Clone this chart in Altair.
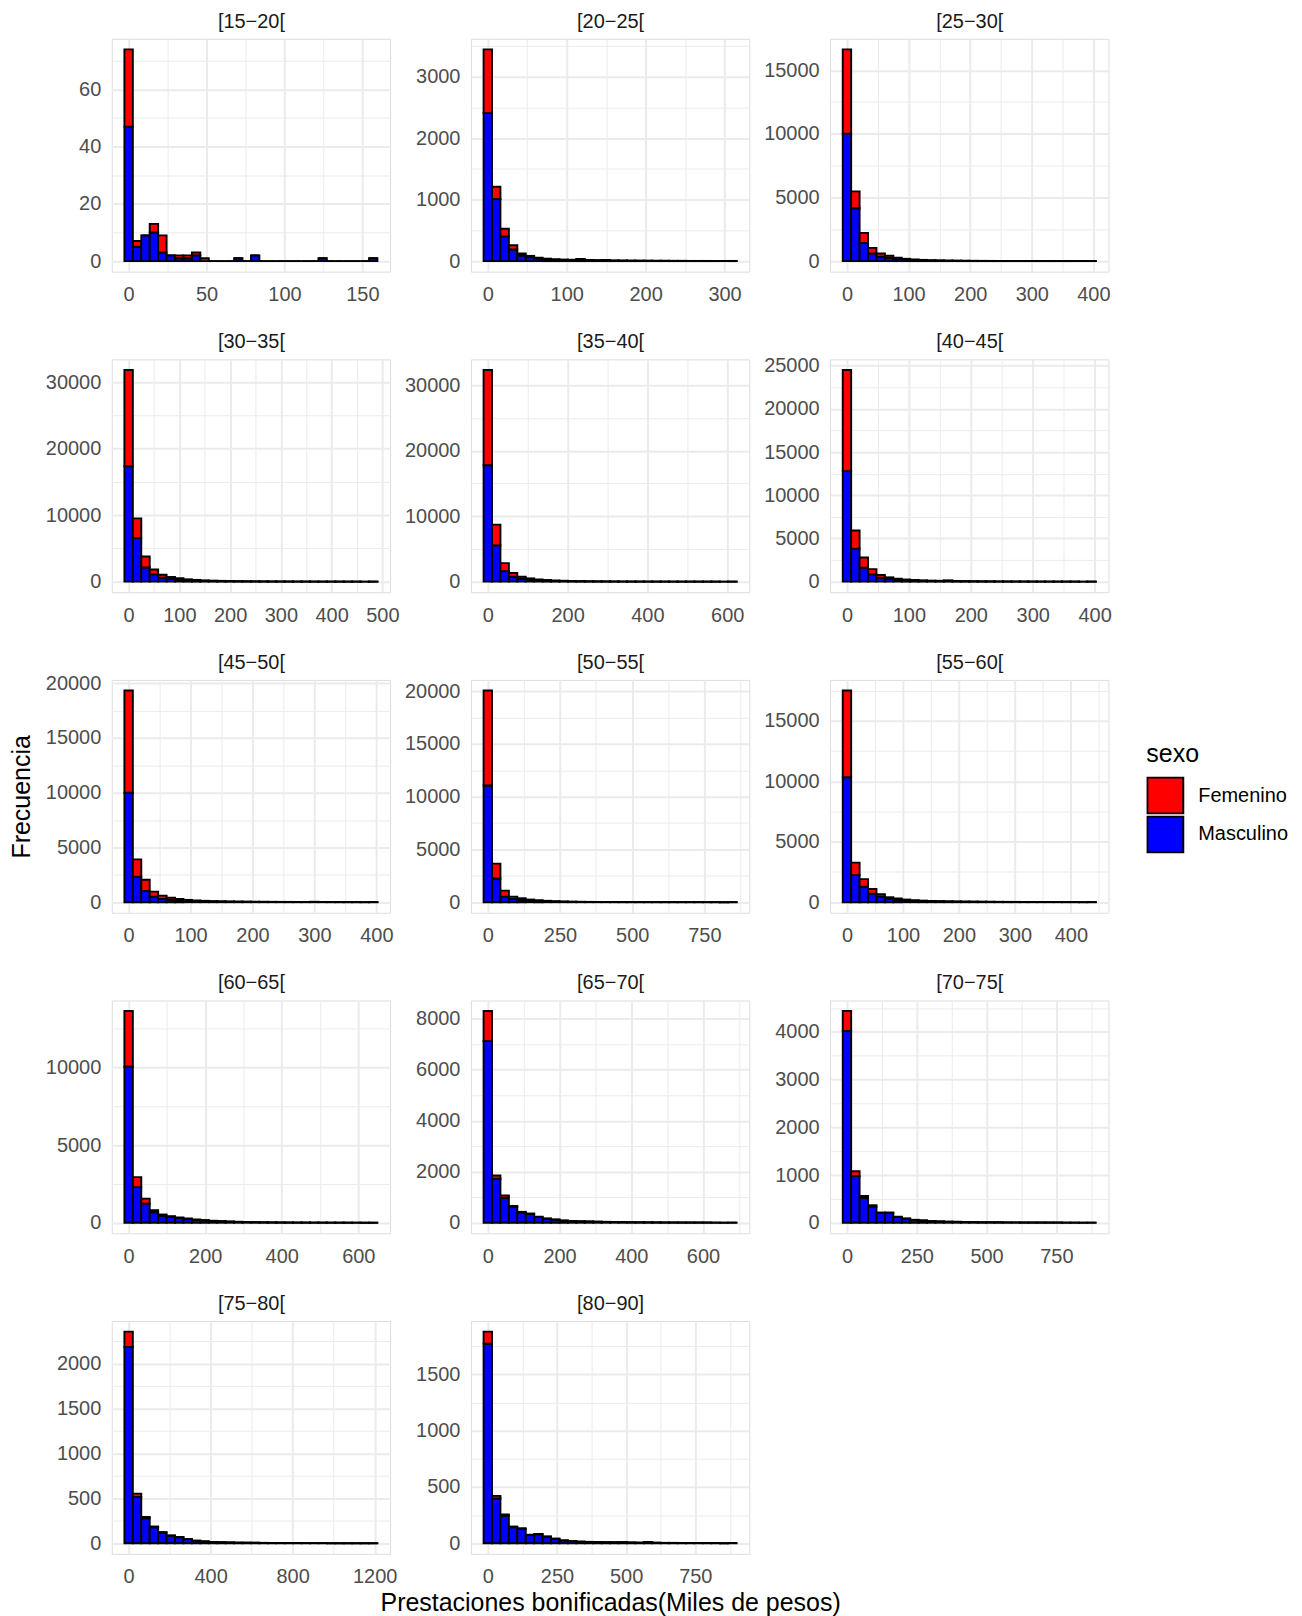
import altair as alt
import pandas as pd

FONT = "Liberation Sans"

groups = ["[15−20[", "[20−25[", "[25−30[", "[30−35[", "[35−40[", "[40−45[",
          "[45−50[", "[50−55[", "[55−60[", "[60−65[", "[65−70[", "[70−75[",
          "[75−80[", "[80−90]"]

# centre of the last of the 30 bins (first bin is centred on 0)
last_center = [157, 310, 397, 482, 613, 395, 395, 847, 437, 639, 682, 876, 1193, 884]
x_step = [50, 100, 100, 100, 200, 100, 100, 250, 100, 200, 200, 250, 400, 250]
y_step = [20, 1000, 5000, 10000, 10000, 5000, 5000, 5000, 5000, 5000, 2000, 1000, 500, 500]

masc_15_20 = [47, 5, 9, 10, 3, 2, 1, 1, 2, 0, 0, 0, 0, 1, 0, 2, 0, 0, 0, 0, 0, 0, 0, 1, 0, 0, 0, 0, 0, 1]
fem_15_20 = [27, 2, 0, 3, 6, 0, 1, 1, 1, 1, 0, 0, 0, 0, 0, 0, 0, 0, 0, 0, 0, 0, 0, 0, 0, 0, 0, 0, 0, 0]

masc_20_25 = [2410, 1011, 403, 189, 90, 62, 40, 30, 22, 19, 17, 28, 14, 11, 14, 8, 7, 6, 5, 5, 4, 4, 3, 3, 2, 2, 2, 2, 2, 2]
fem_20_25 = [1037, 199, 124, 69, 34, 23, 15, 10, 8, 6, 5, 7, 4, 4, 4, 2, 2, 2, 2, 1, 1, 1, 1, 1, 1, 1, 1, 0, 0, 1]

masc_25_30 = [10020, 4154, 1428, 597, 337, 250, 160, 110, 80, 60, 45, 35, 27, 22, 18, 14, 12, 10, 8, 7, 6, 5, 5, 4, 3, 3, 3, 2, 2, 2]
fem_25_30 = [6620, 1324, 779, 441, 260, 165, 100, 70, 50, 35, 25, 20, 15, 13, 10, 8, 6, 5, 4, 3, 3, 3, 2, 2, 2, 2, 1, 1, 1, 1]

masc_30_35 = [17350, 6545, 2130, 1090, 600, 420, 300, 210, 160, 115, 90, 75, 60, 47, 38, 30, 25, 20, 16, 14, 11, 9, 8, 6, 6, 5, 4, 4, 3, 3]
fem_30_35 = [14480, 2975, 1640, 740, 440, 280, 200, 140, 100, 75, 60, 45, 35, 28, 22, 18, 15, 12, 10, 8, 7, 6, 4, 4, 3, 3, 3, 2, 2, 2]

masc_35_40 = [17800, 5550, 1615, 756, 450, 300, 215, 155, 110, 85, 62, 48, 38, 30, 24, 19, 15, 12, 10, 8, 7, 6, 5, 4, 4, 3, 3, 3, 2, 2]
fem_35_40 = [14570, 3170, 1210, 554, 310, 200, 135, 95, 70, 50, 38, 30, 22, 17, 13, 11, 9, 7, 6, 5, 4, 3, 3, 3, 2, 2, 1, 1, 1, 1]

masc_40_45 = [12790, 3817, 1600, 840, 458, 300, 205, 150, 115, 90, 72, 60, 90, 48, 39, 31, 25, 21, 17, 14, 11, 10, 8, 7, 5, 5, 4, 4, 3, 3]
fem_40_45 = [11710, 2099, 1186, 610, 305, 200, 135, 100, 75, 60, 48, 40, 60, 32, 26, 21, 17, 14, 11, 9, 8, 6, 5, 4, 4, 3, 3, 2, 2, 2]

masc_45_50 = [10000, 2320, 1024, 512, 300, 220, 160, 115, 88, 70, 56, 48, 40, 34, 30, 26, 23, 20, 17, 15, 14, 13, 23, 10, 9, 7, 6, 5, 5, 4]
fem_45_50 = [9340, 1596, 1026, 452, 302, 200, 140, 95, 72, 55, 44, 37, 30, 26, 22, 19, 17, 15, 13, 12, 10, 9, 17, 8, 6, 6, 5, 4, 3, 3]

masc_50_55 = [11060, 2250, 530, 310, 215, 145, 105, 76, 56, 42, 31, 24, 18, 14, 11, 9, 7, 6, 5, 4, 4, 3, 3, 2, 2, 2, 1, 1, 1, 1]
fem_50_55 = [9000, 1406, 564, 220, 160, 105, 75, 54, 39, 28, 21, 16, 12, 10, 8, 6, 5, 4, 3, 3, 2, 2, 1, 2, 1, 1, 1, 1, 1, 1]

masc_55_60 = [10336, 2236, 1282, 709, 464, 280, 205, 150, 113, 89, 72, 60, 51, 44, 38, 33, 29, 25, 22, 19, 17, 15, 13, 12, 10, 9, 8, 7, 5, 5]
fem_55_60 = [7174, 1037, 627, 382, 190, 129, 95, 68, 52, 41, 33, 28, 24, 20, 17, 15, 13, 12, 10, 9, 8, 7, 6, 5, 5, 4, 3, 3, 3, 2]

masc_60_65 = [10064, 2298, 1234, 680, 455, 365, 295, 242, 187, 150, 113, 94, 71, 55, 43, 34, 27, 22, 18, 15, 12, 11, 9, 8, 7, 6, 5, 5, 4, 4]
fem_60_65 = [3576, 638, 319, 128, 77, 60, 45, 35, 26, 20, 15, 12, 9, 7, 5, 4, 3, 3, 2, 2, 2, 1, 1, 1, 1, 1, 1, 0, 1, 0]

masc_65_70 = [7120, 1722, 980, 615, 400, 340, 219, 158, 122, 85, 61, 55, 47, 40, 33, 28, 25, 21, 18, 16, 14, 12, 11, 10, 9, 8, 7, 6, 5, 5]
fem_65_70 = [1178, 129, 94, 45, 27, 22, 14, 10, 8, 5, 4, 3, 3, 2, 2, 2, 1, 1, 1, 1, 1, 1, 1, 0, 0, 0, 0, 0, 0, 0]

masc_70_75 = [4021, 976, 519, 339, 203, 203, 118, 85, 59, 46, 33, 27, 21, 19, 15, 12, 11, 10, 9, 8, 7, 6, 6, 5, 4, 4, 3, 3, 3, 2]
fem_70_75 = [415, 104, 41, 28, 12, 12, 7, 5, 3, 2, 2, 1, 1, 1, 1, 1, 0, 0, 0, 0, 0, 0, 0, 0, 0, 0, 0, 0, 0, 0]

masc_75_80 = [2183, 516, 278, 178, 119, 84, 67, 46, 28, 21, 14, 12, 10, 8, 7, 6, 5, 4, 4, 3, 3, 2, 2, 2, 1, 1, 1, 1, 1, 1]
fem_75_80 = [172, 37, 15, 9, 6, 4, 3, 2, 1, 1, 1, 0, 0, 0, 0, 0, 0, 0, 0, 0, 0, 0, 0, 0, 0, 0, 0, 0, 0, 0]

masc_80_90 = [1772, 398, 245, 143, 128, 73, 79, 59, 40, 25, 19, 15, 13, 12, 10, 9, 10, 7, 6, 12, 5, 4, 4, 3, 3, 2, 2, 2, 1, 2]
fem_80_90 = [108, 23, 12, 6, 6, 3, 3, 2, 1, 1, 1, 0, 0, 0, 0, 0, 0, 0, 0, 0, 0, 0, 0, 0, 0, 0, 0, 0, 0, 0]

masc_all = [masc_15_20, masc_20_25, masc_25_30, masc_30_35, masc_35_40, masc_40_45,
            masc_45_50, masc_50_55, masc_55_60, masc_60_65, masc_65_70, masc_70_75,
            masc_75_80, masc_80_90]
fem_all = [fem_15_20, fem_20_25, fem_25_30, fem_30_35, fem_35_40, fem_40_45,
           fem_45_50, fem_50_55, fem_55_60, fem_60_65, fem_65_70, fem_70_75,
           fem_75_80, fem_80_90]

sex_domain = ["Femenino", "Masculino"]
sex_colors = ["#FF0000", "#0000FF"]

PW, PH = 279, 233.4


def grid_values(lo, hi, step):
    half = step // 2
    vals = []
    k = int(lo // half) - 1
    while k * half <= hi:
        v = k * half
        if lo <= v <= hi:
            vals.append(v)
        k += 1
    return vals


def panel(i):
    c = last_center[i]
    w = c / 29.0
    m_list, f_list = masc_all[i], fem_all[i]
    rows = []
    for k in range(30):
        x0 = k * w - w / 2
        x1 = k * w + w / 2
        m, f = m_list[k], f_list[k]
        rows.append({"sexo": "Masculino", "x0": x0, "x1": x1, "y0": 0, "y1": m})
        rows.append({"sexo": "Femenino", "x0": x0, "x1": x1, "y0": m, "y1": m + f})
    df = pd.DataFrame(rows)

    ymax = max(m + f for m, f in zip(m_list, f_list))
    ydom = [-0.05 * ymax, 1.05 * ymax]
    xlo, xhi = -w / 2, c + w / 2
    r = xhi - xlo
    xdom = [xlo - 0.05 * r, xhi + 0.05 * r]

    xs, ys = x_step[i], y_step[i]
    xvals = grid_values(xdom[0], xdom[1], xs)
    yvals = grid_values(ydom[0], ydom[1], ys)

    common = dict(
        grid=True, gridColor="#EBEBEB", ticks=False, domain=False,
        labelFont=FONT, labelColor="#4D4D4D",
        labelOverlap=False, labelFlush=False, format="d",
        titleFont=FONT, titleFontSize=25, titleColor="#000000",
        titleFontWeight="normal",
    )

    xaxis = alt.Axis(
        values=xvals,
        labelExpr=f"datum.value % {xs} === 0 ? datum.label : ''",
        labelFontSize={"condition": {"test": f"datum.value % {xs} === 0", "value": 20}, "value": 0},
        gridWidth={"condition": {"test": f"datum.value % {xs} === 0", "value": 2.0}, "value": 1.0},
        labelPadding=13,
        title="Prestaciones bonificadas(Miles de pesos)" if i == 13 else None,
        titlePadding=4,
        **common,
    )
    yaxis = alt.Axis(
        values=yvals,
        labelExpr=f"datum.value % {ys} === 0 ? datum.label : ''",
        labelFontSize={"condition": {"test": f"datum.value % {ys} === 0", "value": 20}, "value": 0},
        gridWidth={"condition": {"test": f"datum.value % {ys} === 0", "value": 2.0}, "value": 1.0},
        labelPadding=11,
        title="Frecuencia" if i == 6 else None,
        titlePadding=11,
        **common,
    )
    # strip label: a top axis that only carries a title
    strip_axis = alt.Axis(
        orient="top", title=groups[i], labels=False, ticks=False, domain=False,
        grid=False, titleFont=FONT, titleFontSize=20, titleFontWeight="normal",
        titleColor="#1A1A1A", titlePadding=7.6,
    )

    xscale = alt.Scale(domain=xdom, nice=False, zero=False)
    yscale = alt.Scale(domain=ydom, nice=False, zero=False)

    bars = (
        alt.Chart(df)
        .mark_bar(stroke="#000000", strokeWidth=1.9)
        .encode(
            x=alt.X("x0:Q", scale=xscale, axis=xaxis),
            x2="x1:Q",
            y=alt.Y("y0:Q", scale=yscale, axis=yaxis),
            y2="y1:Q",
            color=alt.Color(
                "sexo:N",
                scale=alt.Scale(domain=sex_domain, range=sex_colors),
                legend=alt.Legend(
                    title="sexo", orient="none", legendX=1037, legendY=704.5,
                    padding=0, symbolType="square", symbolSize=1296,
                    symbolStrokeColor="#000000", symbolStrokeWidth=2,
                    symbolOpacity=1, clipHeight=38,
                    rowPadding=1, labelOffset=14,
                    labelFont=FONT, labelFontSize=20, labelColor="#000000",
                    titleFont=FONT, titleFontSize=25, titleColor="#000000",
                    titleFontWeight="normal", titlePadding=10,
                ),
            ),
        )
    )
    strip = (
        alt.Chart(df)
        .mark_bar(opacity=0, strokeOpacity=0)
        .encode(
            x=alt.X("x0:Q", scale=xscale, axis=strip_axis),
            x2="x1:Q",
            y=alt.Y("y0:Q", scale=yscale, axis=yaxis),
            y2="y1:Q",
        )
    )
    return (
        alt.layer(bars, strip)
        .resolve_axis(x="independent")
        .properties(width=PW, height=PH)
    )


charts = [panel(i) for i in range(len(groups))]

chart = (
    alt.concat(*charts, columns=3, bounds="flush", spacing={"row": 87.3, "column": 81})
    .configure_view(strokeWidth=0, stroke="transparent")
    .configure(background="#FFFFFF", padding={"left": 0, "top": 0, "right": 5, "bottom": 5})
)

chart.save("out.html", embed_options={"renderer": "svg", "actions": False})
